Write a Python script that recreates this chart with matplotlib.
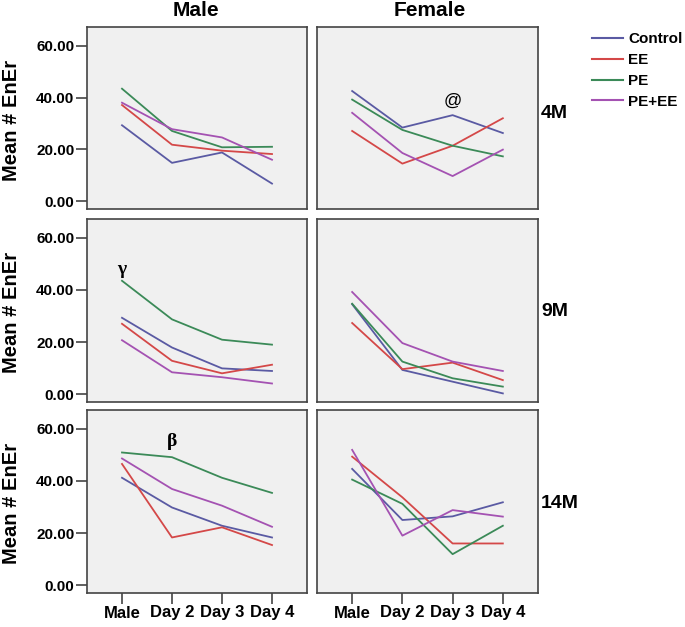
import matplotlib
matplotlib.use("Agg")
import matplotlib.pyplot as plt
from matplotlib.lines import Line2D

plt.rcParams['font.family'] = ['Liberation Sans', 'DejaVu Sans']

days = ['Male', 'Day 2', 'Day 3', 'Day 4']
groups = ['Control', 'EE', 'PE', 'PE+EE']
ages = ['4M', '9M', '14M']
sexes = ['Male', 'Female']

# mean # EnEr per group
male_4m = {
    'Control': [29.3, 14.8, 18.8, 6.8],
    'EE':      [37.1, 21.8, 19.5, 18.2],
    'PE':      [43.4, 27.1, 20.8, 21.0],
    'PE+EE':   [38.0, 27.8, 24.6, 16.0],
}
female_4m = {
    'Control': [42.5, 28.4, 33.2, 26.3],
    'EE':      [27.1, 14.5, 21.4, 32.0],
    'PE':      [39.2, 27.5, 21.4, 17.3],
    'PE+EE':   [34.1, 18.6, 9.7, 19.9],
}
male_9m = {
    'Control': [29.3, 17.9, 9.9, 8.9],
    'EE':      [27.0, 12.8, 8.0, 11.3],
    'PE':      [43.5, 28.7, 20.9, 19.0],
    'PE+EE':   [20.7, 8.4, 6.5, 4.1],
}
female_9m = {
    'Control': [34.5, 9.3, 4.8, 0.3],
    'EE':      [27.3, 9.6, 12.1, 5.4],
    'PE':      [34.7, 12.5, 6.1, 2.9],
    'PE+EE':   [39.2, 19.6, 12.5, 8.9],
}
male_14m = {
    'Control': [41.2, 29.8, 22.8, 18.3],
    'EE':      [46.5, 18.3, 22.2, 15.4],
    'PE':      [50.9, 49.1, 41.2, 35.4],
    'PE+EE':   [48.6, 36.9, 30.5, 22.4],
}
female_14m = {
    'Control': [44.6, 25.0, 26.4, 31.8],
    'EE':      [49.3, 33.7, 16.0, 16.0],
    'PE':      [40.5, 31.2, 11.9, 22.8],
    'PE+EE':   [51.9, 19.0, 28.8, 26.3],
}
panels = [[male_4m, female_4m], [male_9m, female_9m], [male_14m, female_14m]]

# significance marks: (row, col, day index, y, text, serif?)
marks = [
    (0, 1, 2, 38.5, '@', False),
    (1, 0, 0, 48.0, '\u03b3', True),
    (2, 0, 1, 55.0, '\u03b2', True),
]

colors = {'Control': '#5a5aa3', 'EE': '#d44848', 'PE': '#3b8a58', 'PE+EE': '#a452b2'}

W, H = 685, 627
fig = plt.figure(figsize=(W / 100, H / 100), dpi=100)

col_x = [(87, 307), (317, 538)]
row_y = [(27, 209), (219, 402), (410, 593)]

axes = [[None, None] for _ in range(3)]
for r in range(3):
    for c in range(2):
        x0, x1 = col_x[c]
        y0, y1 = row_y[r]
        ax = fig.add_axes([x0 / W, 1 - y1 / H, (x1 - x0) / W, (y1 - y0) / H])
        axes[r][c] = ax
        ax.set_facecolor('#f0f0f0')
        data = panels[r][c]
        for g in groups:
            ax.plot(range(len(days)), data[g], color=colors[g], lw=1.3)
        ax.set_xlim(-0.7, 3.7)
        ax.set_ylim(-3.0, 67.2)
        for s in ax.spines.values():
            s.set_color('#444444')
            s.set_linewidth(1.2)
        ax.tick_params(direction='out', length=8, width=1.2, color='#444444', pad=1)
        if c == 0:
            ax.set_yticks([0, 20, 40, 60])
            ax.set_yticklabels(['%.2f' % v for v in [0, 20, 40, 60]],
                               fontsize=11, fontweight='bold')
            # y label placed by hand so all three line up with the reference
            fig.text(11.5 / W, 1 - ((y0 + y1) / 2 + 2) / H, 'Mean # EnEr', rotation=90,
                     ha='center', va='center', fontsize=14.5, fontweight='bold')
        else:
            ax.set_yticks([])
        if r == 2:
            ax.set_xticks(range(len(days)))
            ax.set_xticklabels(days, fontsize=12, fontweight='bold')
        else:
            ax.set_xticks([])

for r, c, d, y, txt, serif in marks:
    if serif:
        axes[r][c].text(d, y, txt, ha='center', va='center', fontsize=14,
                        fontweight='bold', family='Liberation Serif')
    else:
        axes[r][c].text(d, y, txt, ha='center', va='center', fontsize=13)

# column titles
fig.text(196 / W, 1 - 11 / H, 'Male', ha='center', va='center', fontsize=15, fontweight='bold')
fig.text(430 / W, 1 - 11 / H, 'Female', ha='center', va='center', fontsize=15, fontweight='bold')

# row labels
for lab, yc in zip(ages, [113, 311, 503]):
    fig.text(541 / W, 1 - yc / H, lab, ha='left', va='center', fontsize=14, fontweight='bold')

# legend
handles = [Line2D([0], [0], color=colors[g], lw=1.5) for g in groups]
fig.legend(handles, groups, loc='upper left', bbox_to_anchor=(586 / W, 1 - 26 / H),
           frameon=False, prop={'weight': 'bold', 'size': 11},
           handlelength=2.0, handletextpad=0.35, labelspacing=0.45, borderaxespad=0)

fig.savefig('out.png', dpi=100)
